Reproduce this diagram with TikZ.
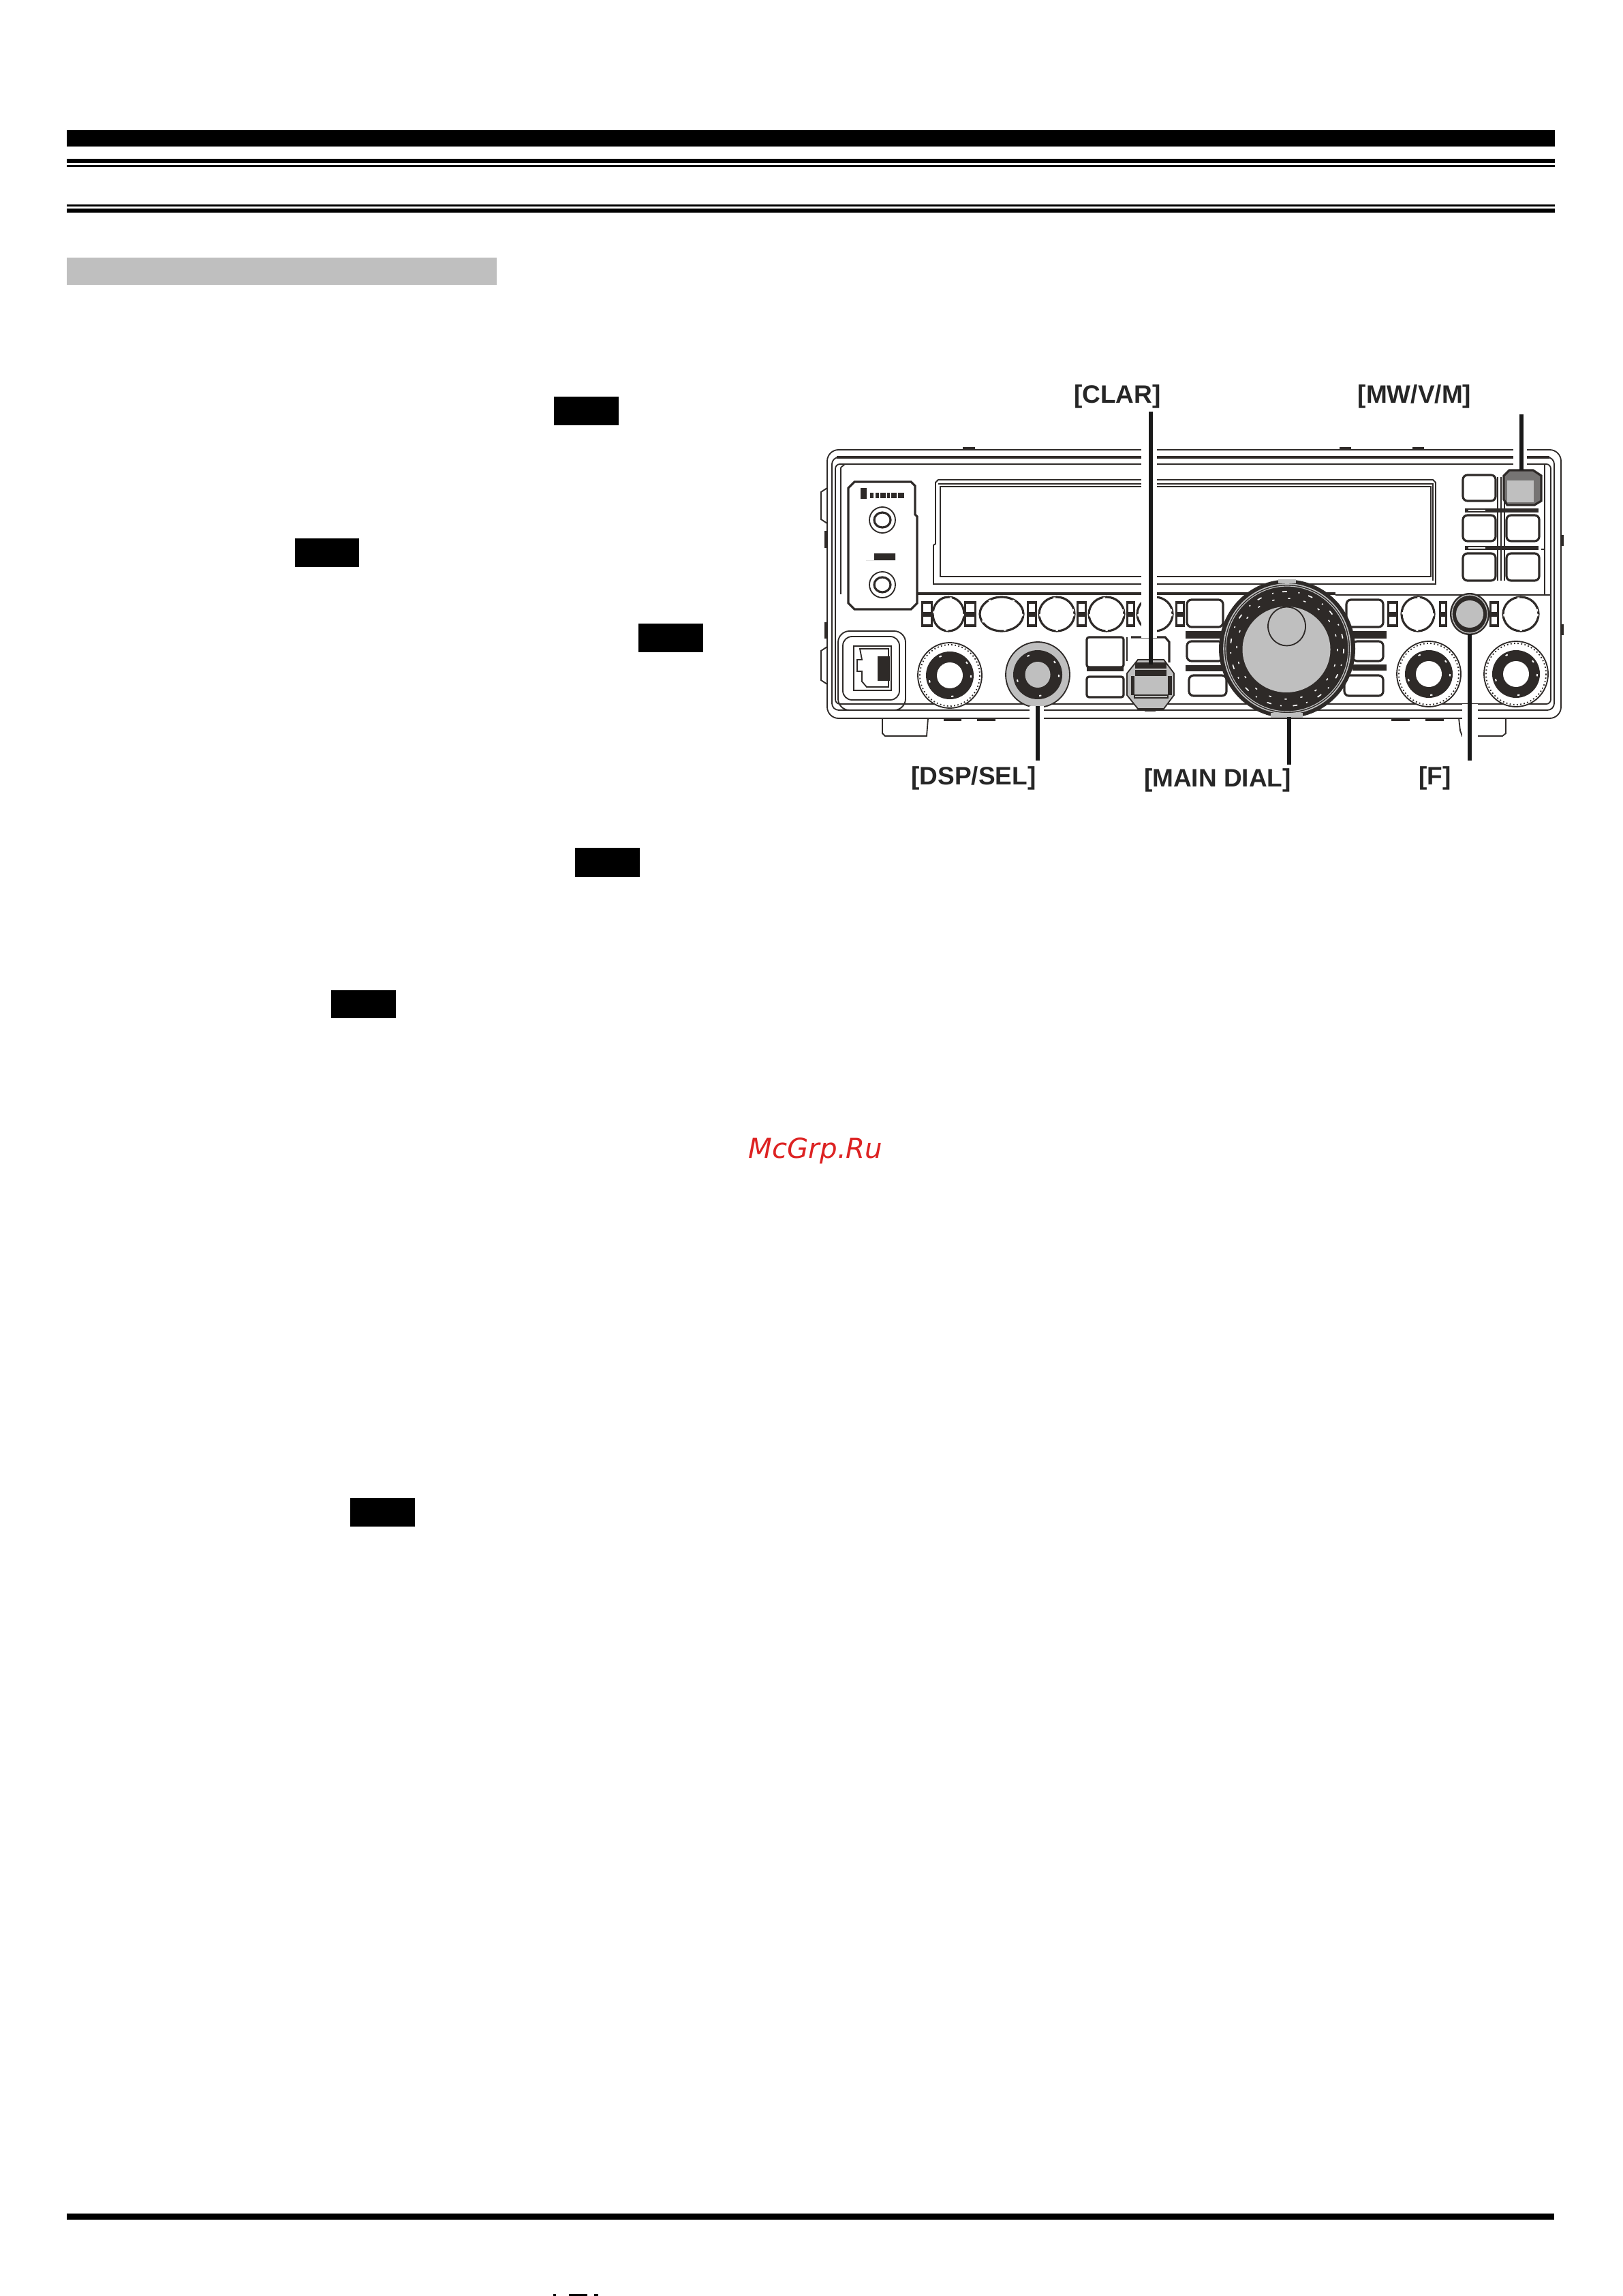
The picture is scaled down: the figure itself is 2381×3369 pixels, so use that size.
\documentclass[tikz,border=0pt]{standalone}
\usepackage{fontspec}
\setmainfont{Liberation Sans}
\newfontfamily\wmfont{DejaVu Sans}
\definecolor{ink}{HTML}{2E2A28}
\definecolor{midgray}{HTML}{BFBFBF}
\definecolor{wmred}{HTML}{DD2222}
\tikzset{
 barfill/.style={fill=black,draw=none},
 ln/.style={draw=ink,line width=0.55pt},
 lnb/.style={draw=ink,line width=0.95pt},
 lnt/.style={draw=ink,line width=1.6pt},
 callout/.style={draw=black!90,line width=1.6pt},
 calllabel/.style={font=\bfseries\fontsize{11.1pt}{12pt}\selectfont,text=black!85,anchor=base,inner sep=0pt},
 gapbox/.style={fill=white,draw=none},
 dark/.style={fill=ink,draw=none},
 gray/.style={fill=midgray,draw=none},
}
\newcommand{\darkpair}[2]{%
 \fill[ink] (#1,882) rectangle (#2,920);
 \fill[white] ({#1+3},886) rectangle ({#2-3},898);
 \fill[white] ({#1+3},905) rectangle ({#2-3},916);}
\newcommand{\knobring}[4]{% x y rx ry
 \draw[lnb,fill=white] (#1,#2) ellipse [x radius=#3,y radius=#4];
 \draw[white,line width=0.5pt,dash pattern=on 1pt off 10pt] (#1,#2) ellipse [x radius=#3-1,y radius=#4-1];}
\newcommand{\bigknob}[2]{% x y
 \draw[ln,fill=white] (#1,#2) circle [x radius=47,y radius=48];
 \draw[ln,densely dotted] (#1,#2) circle [x radius=44,y radius=45];
 \fill[ink] (#1,#2) circle [x radius=35,y radius=35];
 \draw[white,line width=0.6pt,dash pattern=on 1pt off 12pt] (#1,#2) circle [x radius=31,y radius=31];
 \fill[white] (#1,#2) circle [x radius=19,y radius=19];}
\begin{document}
\begin{tikzpicture}[x=0.3pt,y=-0.3pt]
\path[use as bounding box,fill=white] (0,0) rectangle (2381,3369);
% page rules
\path[barfill] (98,191) rectangle (2282,215);
\path[barfill] (98,233) rectangle (2282,239);
\path[barfill] (98,242) rectangle (2282,245);
\path[barfill] (98,300) rectangle (2282,303);
\path[barfill] (98,306) rectangle (2282,312);
\path[fill=midgray] (98,378) rectangle (729,418);
\path[barfill] (98,3248) rectangle (2281,3257);
% black tags
\path[barfill] (813,582) rectangle (908,624);
\path[barfill] (433,790) rectangle (527,832);
\path[barfill] (937,915) rectangle (1032,957);
\path[barfill] (844,1244) rectangle (939,1287);
\path[barfill] (486,1453) rectangle (581,1494);
\path[barfill] (514,2198) rectangle (609,2240);
% specks on bottom edge
\path[barfill] (812,3366) rectangle (816,3369);
\path[barfill] (835,3366) rectangle (862,3369);
\path[barfill] (872,3366) rectangle (878,3369);
% watermark
\node[anchor=base west,inner sep=0pt,text=wmred] (wm) at (1098,1699)
  {\wmfont\itshape\fontsize{12.1pt}{14pt}\selectfont McGrp.Ru};

% ---------- radio body
\draw[ln,rounded corners=5pt] (1214,660) rectangle (2291,1054);
\draw[ln,rounded corners=3pt] (1221,671) rectangle (2281,1042);
\draw[ln,rounded corners=2pt] (1226,681) rectangle (2276,1033);
\draw[lnb] (1228,671) -- (2274,671);
\draw[ln] (1234,686) -- (1234,872);
\draw[ln] (1234,686) -- (1240,681);
\draw[ln] (2267,681) -- (2267,806) -- (2262,806);
\draw[ln] (2267,806) -- (2267,872);
% tabs
\foreach \a/\b in {1413/1431,1966/1983,2073/2090}{\fill[ink] (\a,656) rectangle (\b,660);}
\foreach \a/\b in {1385/1411,1434/1461,2042/2069,2092/2119}{\fill[ink] (\a,1054) rectangle (\b,1058);}
\draw[ln] (1214,716) -- (1205,722) -- (1205,762) -- (1214,768);
\draw[ln] (1214,949) -- (1205,955) -- (1205,998) -- (1214,1004);
\fill[ink] (1210,779) rectangle (1214,804);
\fill[ink] (1210,913) rectangle (1214,937);
\fill[ink] (2291,785) rectangle (2295,801);
\fill[ink] (2291,916) rectangle (2295,932);
% feet
\draw[ln] (1295,1054) -- (1295,1076) -- (1299,1080) -- (1360,1080) -- (1362,1054);
\draw[ln] (2141,1054) -- (2143,1072) -- (2146,1080) -- (2205,1080) -- (2210,1076) -- (2210,1054);
% display
\draw[ln] (1370,857) -- (1370,800) -- (1373,798) -- (1373,708) -- (1377,704) -- (2103,704) -- (2107,708) -- (2107,857) -- cycle;
\draw[ln] (1380,714) rectangle (2100,846);
\draw[ln] (1377,710) -- (2103,710) -- (2103,852);
% divider lines
\draw[lnb] (1345,871) -- (1960,871);
\draw[ln] (1960,873) -- (2276,873);
% jack panel
\draw[lnb,fill=white] (1254,707) -- (1337,707) -- (1343,713) -- (1343,755) -- (1346,758) -- (1346,885) -- (1337,894) -- (1254,894) -- (1245,885) -- (1245,716) -- cycle;
\foreach \n/\y in {jacka/763,jackb/858}{
 \draw[ln] (1295,\y) circle [x radius=19,y radius=19];
 \draw[lnb] (1295,\y) circle [x radius=12,y radius=11];
}
\fill[ink] (1263,716) rectangle (1272,732);
\foreach \a/\b in {1277/1282,1285/1290,1292/1300,1302/1306,1308/1316,1318/1327}{\fill[ink] (\a,723) rectangle (\b,731);}
\fill[ink] (1271,822) -- (1283,822) -- (1283,812) -- (1314,812) -- (1314,822) -- (1275,822) -- cycle;
% button row
\darkpair{1352}{1369}\darkpair{1415}{1433}\darkpair{1507}{1522}\darkpair{1580}{1595}\darkpair{1653}{1666}\darkpair{1725}{1739}
\knobring{1392}{901}{23}{25}
\knobring{1470}{901}{32}{25}
\knobring{1551}{901}{26}{25}
\knobring{1624}{901}{26}{25}
\knobring{1695}{901}{26}{25}
% buttons left of dial
\draw[lnb,rounded corners=2pt] (1742,880) rectangle (1795,920);
\fill[ink] (1740,926) rectangle (1795,937);
\draw[lnb,rounded corners=2pt] (1742,941) rectangle (1795,970);
\fill[ink] (1740,976) rectangle (1795,985);
\draw[lnb,rounded corners=2pt] (1745,991) rectangle (1800,1021);
% buttons right of dial
\draw[lnb,rounded corners=2pt] (1976,880) rectangle (2030,920);
\darkpair{2036}{2052}
\fill[ink] (1985,926) rectangle (2035,937);
\draw[lnb,rounded corners=2pt] (1985,941) rectangle (2030,970);
\fill[ink] (1985,975) rectangle (2035,984);
\draw[lnb,rounded corners=2pt] (1973,991) rectangle (2030,1021);
% right-hand button row
\knobring{2081}{901}{24}{25}
\darkpair{2112}{2124}\darkpair{2186}{2200}
\knobring{2232}{901}{26}{25}
% CLAR block buttons
\draw[lnb,rounded corners=1pt] (1595,935) rectangle (1649,979);
\draw[lnb,rounded corners=1pt] (1595,993) rectangle (1649,1023);
\fill[ink] (1595,979) rectangle (1649,985);
\draw[ln] (1595,981) -- (1640,981);
\draw[lnb] (1660,935) -- (1710,935) -- (1716,942) -- (1716,972);
\draw[ln] (1654,935) -- (1654,970);
% big knobs
\bigknob{1394}{991}
\bigknob{2097}{989}
\bigknob{2225}{989}
% DSP/SEL knob (highlighted)
\draw[ln,fill=midgray] (1523,990) circle [x radius=47,y radius=48];
\fill[ink] (1523,990) circle [x radius=36,y radius=36];
\draw[white,line width=0.6pt,dash pattern=on 1pt off 12pt] (1523,990) circle [x radius=31,y radius=31];
\fill[midgray] (1523,990) circle [x radius=18.5,y radius=19];
% mic socket
\draw[ln,rounded corners=5pt] (1230,926) rectangle (1329,1042);
\draw[ln,rounded corners=4pt] (1237,934) rectangle (1320,1027);
\draw[ln] (1253,948) rectangle (1308,1013);
\draw[ln] (1262,952) -- (1304,952) -- (1304,1008) -- (1272,1008) -- (1265,1000) -- (1265,985) -- (1258,985) -- (1258,968) -- (1265,968) -- cycle;
\fill[ink] (1288,963) rectangle (1306,999);
% keypad
\foreach \a/\b in {2147/2195,2211/2259}{
 \foreach \c/\d in {697/735,756/794,812/852}{
  \draw[lnb,rounded corners=2pt] (\a,\c) rectangle (\b,\d);
 }
}
\foreach \y in {749,804}{\fill[ink] (2150,{\y-3}) rectangle (2258,{\y+3});
  \fill[white] (2155,{\y-1}) rectangle (2180,{\y+1});}
\foreach \x in {2198,2203,2208}{\draw[ln] (\x,700) -- (\x,852);}
% MW/V/M button (highlighted)
\draw[lnb,fill=midgray!50!ink] (2207,698) -- (2215,690) -- (2250,690) -- (2262,698) -- (2262,735) -- (2252,741) -- (2212,741) -- (2207,733) -- cycle;
\fill[midgray] (2212,705) rectangle (2251,737);
% F button (highlighted)
\fill[ink] (2157,901) circle [x radius=29,y radius=31];
\draw[midgray,line width=0.4pt] (2157,901) circle [x radius=26,y radius=28];
\fill[midgray] (2157,901) circle [x radius=20,y radius=20];
% CLAR button (highlighted)
\draw[ln,fill=midgray] (1654,988) -- (1670,968) -- (1708,968) -- (1723,988) -- (1723,1020) -- (1708,1040) -- (1670,1040) -- (1654,1020) -- cycle;
\fill[ink] (1666,972) rectangle (1712,992);
\draw[midgray,line width=0.5pt] (1666,982) -- (1712,982);
\fill[ink] (1660,992) rectangle (1665,1020);
\fill[ink] (1714,992) rectangle (1720,1020);
\draw[ink,line width=0.6pt] (1665,1020) rectangle (1714,1024);
\fill[ink] (1680,1040) rectangle (1696,1044);
% MAIN DIAL
\fill[ink] (1889,952) circle [x radius=100,y radius=101.5];
\draw[midgray,line width=0.5pt] (1889,952) circle [x radius=93,y radius=95];
\draw[midgray,line width=0.35pt] (1889,952) circle [x radius=90,y radius=92];
\draw[white,line width=0.5pt,dash pattern=on 2pt off 5pt on 0.6pt off 4pt] (1889,952) circle [x radius=83,y radius=84];
\draw[white,line width=0.45pt,dash pattern=on 1pt off 6pt] (1889,952) circle [x radius=74,y radius=74];
\fill[midgray] (1876,850) rectangle (1902,856);
\fill[midgray] (1865,1046) rectangle (1912,1053);
\fill[midgray] (1888,953) circle [x radius=64.5,y radius=63];
\draw[ln,fill=midgray] (1888.5,919) circle [x radius=27.5,y radius=28.5];
% gaps around callout lines
\path[gapbox] (1675,654) rectangle (1698,936);
\path[gapbox] (2221,654) rectangle (2241,688);
\path[gapbox] (1511,1036) rectangle (1532,1060);
\path[gapbox] (2146,1033) rectangle (2169,1100);
% labels
\node[calllabel] (lclar) at (1640,592) {[CLAR]};
\node[calllabel] (lmw) at (2076,592) {[MW/V/M]};
\node[calllabel] (ldsp) at (1429,1151) {[DSP/SEL]};
\node[calllabel] (lmain) at (1787,1154) {[MAIN DIAL]};
\node[calllabel] (lf) at (2106,1151) {[F]};
% callout ends
\coordinate (clarT) at (1689,604);\coordinate (clarB) at (1689,975);
\coordinate (mwT) at (2233,608);\coordinate (mwB) at (2233,690);
\coordinate (dspB) at (1523,1116);\coordinate (dspT) at (1523,1036);
\coordinate (mainB) at (1892,1122);\coordinate (mainT) at (1892,1052);
\coordinate (fB) at (2157,1116);\coordinate (fT) at (2157,930);
\draw[callout] (clarT) -- (clarB);
\draw[callout] (mwT) -- (mwB);
\draw[callout] (dspT) -- (dspB);
\draw[callout] (mainT) -- (mainB);
\draw[callout] (fT) -- (fB);
\end{tikzpicture}
\end{document}
